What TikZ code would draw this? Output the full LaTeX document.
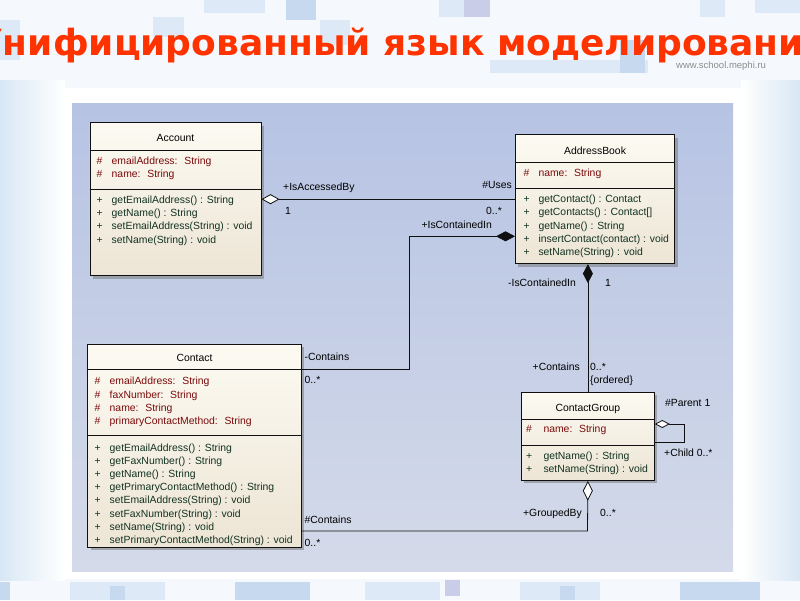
\documentclass[tikz,border=0pt]{standalone}
\usepackage{fontspec}
\setmainfont{Liberation Sans}
\newfontfamily\titlefont{DejaVu Sans}
\usetikzlibrary{arrows.meta,shadows}
\definecolor{titlered}{HTML}{FF3300}
\definecolor{attrred}{HTML}{7A0A0A}
\definecolor{opgreen}{HTML}{123222}
\definecolor{linecol}{HTML}{101010}
\definecolor{boxtop}{HTML}{FCFAF2}
\definecolor{boxbot}{HTML}{EDE5D5}
\definecolor{bgtop}{HTML}{B6C3E3}
\definecolor{bgbot}{HTML}{D4DAE9}
\definecolor{slidebg}{HTML}{F5F8FC}
\definecolor{sideblue}{HTML}{D8E7F5}
\definecolor{sqa}{HTML}{DDE9F6}
\definecolor{sqb}{HTML}{C6D9EE}
\definecolor{sqc}{HTML}{C9CDE8}
\definecolor{urlgray}{HTML}{8C8C8C}
\newcommand\umlsize{\fontsize{10.4}{12}\selectfont}
\newcommand\umlrowset[7]{%
  \foreach \rowtxt [count=\rowi] in {#7}{%
    \node[#2] (#1s\rowi) at (#4,{#6+13.2*(\rowi-1)}) {#3};
    \node[#2] (#1t\rowi) at (#5,{#6+13.2*(\rowi-1)}) {\rowtxt};
  }}
\tikzset{
  classbox/.style={draw=linecol, line width=0.8pt, inner sep=0pt, anchor=north west,
    top color=boxtop, bottom color=boxbot,
    drop shadow={shadow xshift=3pt, shadow yshift=-3pt, fill=black!55, opacity=0.5}},
  hdr/.style={font=\umlsize, text=black, inner sep=0pt, anchor=base},
  attr/.style={font=\umlsize, text=attrred, inner sep=0pt, anchor=base west},
  oper/.style={font=\umlsize, text=opgreen, inner sep=0pt, anchor=base west},
  lbl/.style={font=\umlsize, text=black, inner sep=0pt},
  conn/.style={draw=linecol, line width=0.8pt},
  sepline/.style={draw=linecol, line width=0.8pt},
}
\begin{document}
\begin{tikzpicture}[x=1pt,y=-1pt]
\useasboundingbox (0,0) rectangle (800,600);
\clip (0,0) rectangle (800,600);
% slide background
\fill[slidebg] (0,0) rectangle (800,600);
\shade[left color=sideblue, right color=white] (0,80) rectangle (65,580);
\shade[left color=white, right color=sideblue] (741,80) rectangle (800,580);
% top squares
\fill[sqa] (153,17) rectangle (184,37);
\fill[sqa] (204,0) rectangle (265,13);
\fill[sqb] (286,0) rectangle (316,20);
\fill[sqa] (320,20) rectangle (350,45);
\fill[sqa] (439,0) rectangle (464,17);
\fill[sqc] (464,0) rectangle (490,17);
\fill[sqa] (490,60) rectangle (648,73);
\fill[sqb] (620,40) rectangle (645,73);
\fill[sqa] (700,0) rectangle (725,17);
\fill[sqa] (755,0) rectangle (800,13);
\fill[sqa] (0,20) rectangle (20,60);
% bottom squares
\fill[sqb] (0,582) rectangle (10,600);
\fill[sqa] (70,582) rectangle (165,600);
\fill[sqb] (110,586) rectangle (125,600);
\fill[sqb] (235,582) rectangle (310,600);
\fill[sqa] (365,582) rectangle (440,600);
\fill[sqc] (445,580) rectangle (460,596);
\fill[sqa] (520,582) rectangle (600,600);
\fill[sqb] (560,586) rectangle (575,600);
\fill[sqb] (680,582) rectangle (760,600);
% title
\node[font=\titlefont\bfseries\fontsize{36}{40}\selectfont, text=titlered, anchor=base west, inner sep=0pt]
  (title) at (-25,55) {Унифицированный язык моделирования};
\node[font=\fontsize{9.5}{11}\selectfont, text=urlgray, anchor=base west, inner sep=0pt]
  (url) at (676,68) {www.school.mephi.ru};
% frame and diagram background
\fill[white] (65,88) rectangle (741,579);
\fill[top color=bgtop, bottom color=bgbot] (72,103) rectangle (733,571);

% ---------------- classes ----------------
\node[classbox, minimum width=171.2pt, minimum height=153pt] (account) at (89.5,122.3) {};
\node[hdr] (accH) at ([yshift=-18.8pt]account.north) {Account};
\draw[sepline] ([yshift=-28.2pt]account.north west) -- ([yshift=-28.2pt]account.north east);
\draw[sepline] ([yshift=-66.7pt]account.north west) -- ([yshift=-66.7pt]account.north east);
\umlrowset{acca}{attr}{\#}{96.5}{111.5}{164.1}{emailAddress:~ String,name:~ String}
\umlrowset{acco}{oper}{+}{96.5}{111.5}{203.4}{getEmailAddress() : String,getName() : String,setEmailAddress(String) : void,setName(String) : void}

\node[classbox, minimum width=159.3pt, minimum height=129pt] (addrbook) at (515,134.3) {};
\node[hdr] (abH) at ([yshift=-19.8pt]addrbook.north) {AddressBook};
\draw[sepline] ([yshift=-28.1pt]addrbook.north west) -- ([yshift=-28.1pt]addrbook.north east);
\draw[sepline] ([yshift=-54pt]addrbook.north west) -- ([yshift=-54pt]addrbook.north east);
\umlrowset{aba}{attr}{\#}{523.5}{538.3}{176.1}{name:~ String}
\umlrowset{abo}{oper}{+}{523.5}{538.3}{202.7}{getContact() : Contact,getContacts() : Contact[],getName() : String,insertContact(contact) : void,setName(String) : void}

\node[classbox, minimum width=213.7pt, minimum height=203pt] (contact) at (87.3,344) {};
\node[hdr] (ctH) at ([yshift=-17.7pt]contact.north) {Contact};
\draw[sepline] ([yshift=-25.5pt]contact.north west) -- ([yshift=-25.5pt]contact.north east);
\draw[sepline] ([yshift=-91.5pt]contact.north west) -- ([yshift=-91.5pt]contact.north east);
\umlrowset{cta}{attr}{\#}{94.5}{109.5}{384.9}{emailAddress:~ String,faxNumber:~ String,name:~ String,primaryContactMethod:~ String}
\umlrowset{cto}{oper}{+}{94.5}{109.5}{451.1}{getEmailAddress() : String,getFaxNumber() : String,getName() : String,getPrimaryContactMethod() : String,setEmailAddress(String) : void,setFaxNumber(String) : void,setName(String) : void,setPrimaryContactMethod(String) : void}

\node[classbox, minimum width=133pt, minimum height=88pt] (cg) at (521,392) {};
\node[hdr] (cgH) at ([yshift=-19.1pt]cg.north) {ContactGroup};
\draw[sepline] ([yshift=-27.3pt]cg.north west) -- ([yshift=-27.3pt]cg.north east);
\draw[sepline] ([yshift=-53pt]cg.north west) -- ([yshift=-53pt]cg.north east);
\umlrowset{cga}{attr}{\#}{526}{543.3}{432.7}{name:~ String}
\umlrowset{cgo}{oper}{+}{526}{543.3}{459.4}{getName() : String,setName(String) : void}

% ---------------- connectors ----------------
% Account -- AddressBook
\draw[conn, {Diamond[fill=white,length=18pt,width=10pt]}-] (account.east) -- (account.east -| addrbook.west);
\node[lbl, anchor=base west] (l1) at (283,190.4) {+IsAccessedBy};
\node[lbl, anchor=base west] (l2) at (285,214.4) {1};
\node[lbl, anchor=base east] (l3) at (512,188.4) {\#Uses};
\node[lbl, anchor=base east] (l4) at (502,214.4) {0..*};

% AddressBook -- Contact
\coordinate (k1) at (409,236.3);
\coordinate (k2) at (409,369);
\draw[conn, {Diamond[length=19pt,width=10pt]}-] (addrbook.west |- k1) -- (k1) -- (k2) -- (contact.east |- k2);
\node[lbl, anchor=base east] (l5) at (492,228.4) {+IsContainedIn};
\node[lbl, anchor=base west] (l6) at (304.5,360.4) {-Contains};
\node[lbl, anchor=base west] (l7) at (304.5,383.4) {0..*};

% AddressBook -- ContactGroup
\draw[conn, {Diamond[length=19pt,width=10pt]}-] (cg.north |- addrbook.south) -- (cg.north);
\node[lbl, anchor=base east] (l8) at (576,286.4) {-IsContainedIn};
\node[lbl, anchor=base west] (l9) at (605,286.4) {1};
\node[lbl, anchor=base east] (l10) at (580,370.4) {+Contains};
\node[lbl, anchor=base west] (l11) at (590,370.4) {0..*};
\node[lbl, anchor=base west] (l12) at (590,383.4) {\{ordered\}};

% ContactGroup self association
\coordinate (s1) at (684,424);
\coordinate (s2) at (684,442);
\draw[conn, {Diamond[fill=white,length=15pt,width=8pt]}-] (cg.east |- s1) -- (s1) -- (s2) -- (cg.east |- s2);
\node[lbl, anchor=base west] (l13) at (665,406.4) {\#Parent 1};
\node[lbl, anchor=base west] (l14) at (664,456.4) {+Child 0..*};

% ContactGroup -- Contact
\coordinate (g1) at (587.5,531);
\draw[conn, {Diamond[fill=white,length=20pt,width=10pt]}-] (cg.south) -- (g1) -- (contact.east |- g1);
\node[lbl, anchor=base west] (l15) at (304.5,523.4) {\#Contains};
\node[lbl, anchor=base west] (l16) at (304.5,546.4) {0..*};
\node[lbl, anchor=base east] (l17) at (582,516.4) {+GroupedBy};
\node[lbl, anchor=base west] (l18) at (600,516.4) {0..*};
\end{tikzpicture}
\end{document}
